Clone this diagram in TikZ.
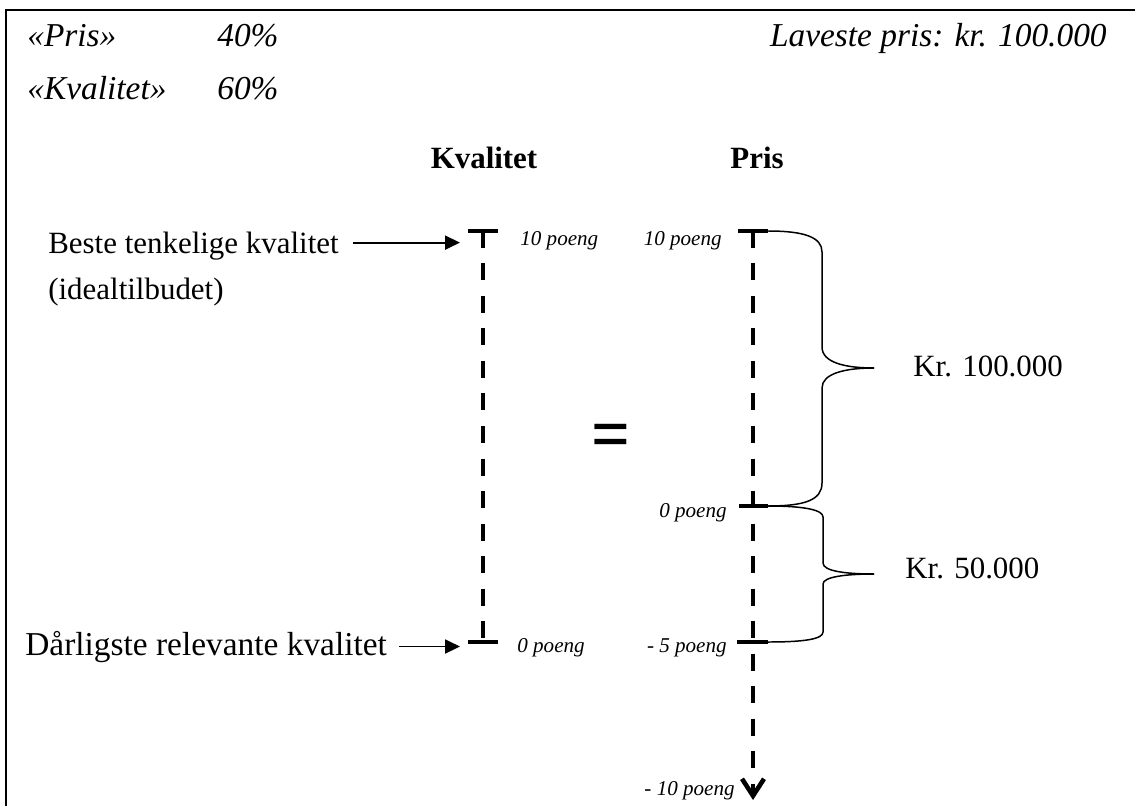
\documentclass[tikz,border=0pt]{standalone}
\usepackage{fontspec}
\setmainfont{Liberation Serif}
\usetikzlibrary{arrows.meta}

\begin{document}
\begin{tikzpicture}[
        big/.style={font=\fontsize{17.6}{21}\selectfont, inner sep=0},
        head/.style={font=\fontsize{19}{23}\selectfont\itshape, inner sep=0},
        small/.style={font=\fontsize{12}{14}\selectfont\itshape, inner sep=0},
        axis/.style={line width=2.6pt, dash pattern=on 0.34cm off 0.31cm},
        bar/.style={line width=2.3pt},
        pointer/.style={line width=1.1pt, -{Triangle[length=0.3cm, width=0.28cm]}},
        brace/.style={line width=0.85pt},
    ]
        \useasboundingbox (0, 0) rectangle (22.7, 16.1);

        \coordinate (QT) at (9.66, 11.48); % Kvalitet, 10 poeng
        \coordinate (QB) at (9.66, 3.26);  % Kvalitet, 0 poeng
        \coordinate (PT) at (15.06, 11.48);
        \coordinate (P0) at (15.06, 5.98);
        \coordinate (P5) at (15.06, 3.26);
        \coordinate (P10) at (15.06, 0.1);
        \coordinate (B1) at (17.48, 8.74); % brace tips
        \coordinate (B2) at (17.48, 4.62);

        % frame, open at right and bottom
        \draw[line width=1.3pt] (0.12, -0.1) -- (0.12, 15.9) -- (22.8, 15.9);

        \node[head, anchor=base west] (wpris) at (0.54, 15.16) {«Pris»};
        \node[head, anchor=base west] (vpris) at (4.34, 15.16) {40\%};
        \node[head, anchor=base west] (wkval) at (0.54, 14.1) {«Kvalitet»};
        \node[head, anchor=base west] (vkval) at (4.34, 14.1) {60\%};
        \node[head, anchor=base east] (laveste) at (22.14, 15.16) {Laveste pris: kr. 100.000};

        \node[big, anchor=base] (hkval) at (9.68, 12.72) {\bfseries Kvalitet};
        \node[big, anchor=base] (hpris) at (15.14, 12.72) {\bfseries Pris};

        \draw[axis] (QT) -- (QB);
        \draw[axis, -{Straight Barb[sharp, length=0.34cm, width=0.44cm]}] (PT) -- (P10);

        \begin{scope}[bar]
            \draw (QT) ++(-0.3, 0) -- ++(0.6, 0);
            \draw (QB) ++(-0.3, 0) -- ++(0.6, 0);
            \draw (PT) ++(-0.3, 0) -- ++(0.6, 0);
            \draw (P0) ++(-0.28, 0) -- ++(0.58, 0);
            \draw (P5) ++(-0.32, 0) -- ++(0.62, 0);
        \end{scope}

        \node[big, anchor=base west] (beste) at (0.96, 11.02) {Beste tenkelige kvalitet};
        \node[big, anchor=base west] (ideal) at (0.96, 10.1) {(idealtilbudet)};
        \node[big, font=\fontsize{19}{23}\selectfont, anchor=base west] (darlig) at (0.5, 3.0) {Dårligste relevante kvalitet};

        \draw[pointer, shorten >=0.46cm] ([xshift=0.28cm, yshift=0.08cm]beste.east) -- ([yshift=0.08cm]beste.east -| QT);
        \draw[pointer, shorten >=0.46cm] ([xshift=0.24cm]darlig.east) -- (darlig.east -| QB);

        \path (QT) ++(0.74, -0.3) node[small, anchor=base west] (q10) {10 poeng};
        \path (QB) ++(0.68, -0.2) node[small, anchor=base west] (q0) {0 poeng};
        \path (PT) ++(-0.62, -0.3) node[small, anchor=base east] (p10) {10 poeng};
        \path (P0) ++(-0.52, -0.22) node[small, anchor=base east] (p0) {0 poeng};
        \path (P5) ++(-0.52, -0.2) node[small, anchor=base east] (p5) {- 5 poeng};
        \path (P10) ++(-0.36, 0.1) node[small, anchor=base east] (pm10) {- 10 poeng};

        \node[font=\fontsize{39}{39}\selectfont\bfseries, inner sep=0, anchor=base, yscale=1.1, transform shape] (eq) at (12.22, 6.92) {=};

        \begin{scope}[brace]
            \draw (15.36, 11.48) .. controls (16.1, 11.48) and (16.44, 11.35) .. (16.44, 11.06)
                -- (16.44, 9.16) .. controls (16.44, 8.85) and (16.9, 8.74) .. (B1);
            \draw (B1) .. controls (16.9, 8.74) and (16.44, 8.63) .. (16.44, 8.34)
                -- (16.44, 6.44) .. controls (16.44, 6.1) and (16.1, 5.98) .. (15.36, 5.98);
            \draw (15.36, 5.98) .. controls (16.1, 5.98) and (16.46, 5.9) .. (16.46, 5.76)
                -- (16.46, 4.84) .. controls (16.46, 4.68) and (16.9, 4.62) .. (B2);
            \draw (B2) .. controls (16.9, 4.62) and (16.46, 4.56) .. (16.46, 4.42)
                -- (16.46, 3.46) .. controls (16.46, 3.32) and (16.1, 3.26) .. (15.36, 3.26);
        \end{scope}

        \path (B1) ++(0.78, -0.16) node[big, anchor=base west] (kr100) {Kr. 100.000};
        \path (B2) ++(0.62, -0.08) node[big, anchor=base west] (kr50) {Kr. 50.000};

    \end{tikzpicture}
\end{document}
